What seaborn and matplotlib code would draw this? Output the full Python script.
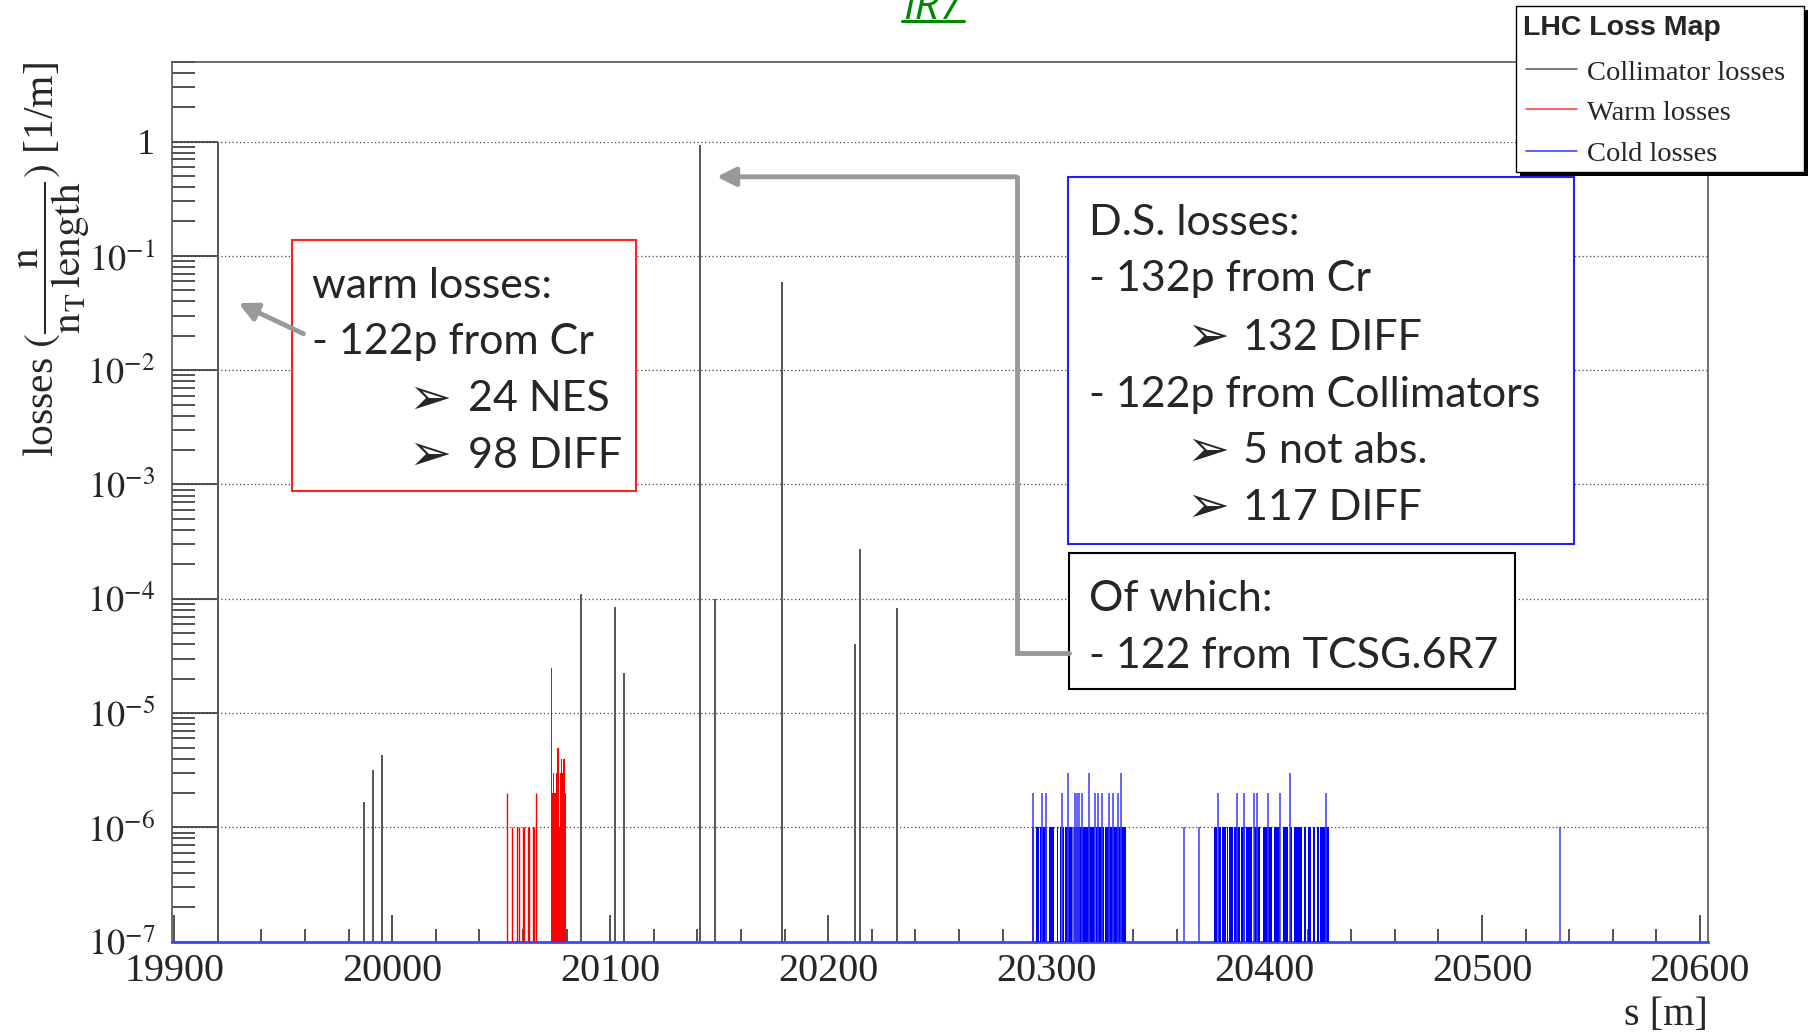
import numpy as np
import pandas as pd
import matplotlib
matplotlib.use("Agg")
import matplotlib.pyplot as plt
import seaborn as sns
from matplotlib.patches import Rectangle, FancyArrowPatch
from matplotlib.lines import Line2D
from matplotlib.ticker import FixedLocator, FuncFormatter, LogLocator, NullFormatter

# ---------------- data ----------------
# collimator losses (s [m], loss [1/m])
coll_s = [19920.0, 19987.0, 19991.1, 19995.1, 20086.4, 20102.3, 20106.3,
          20141.2, 20148.2, 20179.0, 20212.3, 20214.5, 20231.4]
coll_v = [1.0, 1.66e-6, 3.2e-6, 4.3e-6, 1.1e-4, 8.5e-5, 2.26e-5,
          0.94, 1.0e-4, 0.059, 4.0e-5, 2.7e-4, 8.3e-5]

# warm losses: isolated bins
warm_s = [20052.77, 20055.06, 20057.35, 20057.99, 20059.83, 20060.44,
          20062.27, 20062.72, 20064.42, 20065.03, 20065.93]
warm_v = [2e-6, 1e-6, 1e-6, 1e-6, 1e-6, 1e-6, 1e-6, 1e-6, 1e-6, 1e-6, 2e-6]
# warm losses: dense block (bin low edge, bin high edge, value)
warm_lo = [20072.95, 20073.27, 20073.88, 20074.19, 20075.11, 20075.72,
           20076.49, 20076.95, 20077.41, 20077.72, 20078.18, 20079.10]
warm_hi = [20073.27, 20073.88, 20074.19, 20075.11, 20075.72, 20076.49,
           20076.95, 20077.41, 20077.72, 20078.18, 20079.10, 20079.83]
warm_bv = [2.5e-5, 2e-6, 3e-6, 2e-6, 3e-6, 5e-6,
           1e-6, 3e-6, 4e-6, 3e-6, 4e-6, 2e-6]

# cold losses: dense blocks at the 1e-6 level
cold_lo = [20293.66, 20295.19, 20297.33, 20301.31, 20304.98, 20306.20,
           20307.42, 20308.65, 20312.93, 20323.02, 20327.00,
           20377.16, 20379.00, 20380.83, 20382.97, 20383.89, 20386.34,
           20389.40, 20391.54, 20395.21, 20399.49, 20404.69, 20408.67,
           20411.73, 20413.56, 20418.46, 20419.99, 20422.43, 20424.27,
           20425.80]
cold_hi = [20294.58, 20296.72, 20300.39, 20303.75, 20305.59, 20306.81,
           20308.03, 20311.71, 20322.41, 20326.39, 20336.63,
           20378.39, 20380.22, 20382.36, 20383.59, 20385.73, 20388.79,
           20391.23, 20394.29, 20397.96, 20403.47, 20407.44, 20410.81,
           20412.64, 20417.54, 20419.37, 20421.52, 20423.35, 20425.18,
           20429.93]
cold_bv = [1e-6, 1e-6, 1e-6, 1e-6, 1e-6, 1e-6, 1e-6, 1e-6, 1e-6, 1e-6, 1e-6,
           1e-6, 1e-6, 1e-6, 1e-6, 1e-6, 1e-6, 1e-6, 1e-6, 1e-6, 1e-6,
           1e-6, 1e-6, 1e-6, 1e-6, 1e-6, 1e-6, 1e-6, 1e-6, 1e-6]
# cold losses: single bins
cold_s = [20293.97, 20297.95, 20299.78, 20307.43, 20310.18, 20312.20, 20313.24,
          20314.16, 20315.08, 20316.30, 20319.82, 20322.42, 20323.64,
          20325.78, 20328.84, 20330.68, 20333.12, 20334.35,
          20363.2, 20370.0,
          20378.69, 20387.56, 20390.77, 20395.21, 20396.74, 20401.79,
          20407.29, 20411.88, 20428.24, 20535.8]
cold_v = [2e-6, 2e-6, 2e-6, 2e-6, 3e-6, 1e-6, 2e-6,
          2e-6, 2e-6, 2e-6, 3e-6, 2e-6, 2e-6,
          2e-6, 2e-6, 2e-6, 2e-6, 3e-6,
          1e-6, 1e-6,
          2e-6, 2e-6, 2e-6, 2e-6, 2e-6, 2e-6,
          2e-6, 3e-6, 2e-6, 1e-6]

x_ticks = [19900, 20000, 20100, 20200, 20300, 20400, 20500, 20600]
y_ticks = [1e-7, 1e-6, 1e-5, 1e-4, 1e-3, 1e-2, 1e-1, 1]

legend_title = "LHC Loss Map"
legend_labels = ["Collimator losses", "Warm losses", "Cold losses"]

# ---------------- style ----------------
sns.set_theme(style="white")
plt.rcParams["font.family"] = ["Liberation Serif", "DejaVu Serif"]
plt.rcParams["mathtext.fontset"] = "stix"

W, H = 1812, 1032
fig = plt.figure(figsize=(W / 100, H / 100), dpi=100)
fig.patch.set_facecolor("white")


def fx(x):
    return x / W


def fy(y):
    return 1 - y / H


ax = fig.add_axes([fx(171.7), fy(941.7), fx(1708) - fx(171.7), fy(61.7) - fy(941.7)])
ax.set_facecolor("white")
ax.set_yscale("log")
ax.set_xlim(19898.8, 20603.7)
ax.set_ylim(1e-7, 5.0)

BASE = 1e-7
GRAY = "#555555"
RED = "#ff0000"
BLUE = "#0000ff"

# grid
for yv in y_ticks:
    ax.axhline(yv, color="#444444", lw=0.9, ls=(0, (1, 2)), zorder=0)

# collimator lines
coll = pd.DataFrame({"s": coll_s, "v": coll_v})
ax.vlines(coll["s"], BASE, coll["v"], colors=GRAY, lw=1.4, zorder=3)

# warm
ax.vlines(warm_s, BASE, warm_v, colors=RED, lw=1.0, zorder=3)
ax.bar(warm_lo, np.array(warm_bv) - BASE, width=np.array(warm_hi) - np.array(warm_lo),
       bottom=BASE, align="edge", color=RED, linewidth=0, zorder=3)

# cold
ax.bar(cold_lo, np.array(cold_bv) - BASE, width=np.array(cold_hi) - np.array(cold_lo),
       bottom=BASE, align="edge", color=BLUE, linewidth=0, zorder=3)
ax.vlines(cold_s, BASE, cold_v, colors="#3a3aff", lw=1.1, zorder=3)

# spines
for side in ["left", "top", "right"]:
    ax.spines[side].set_color("#555555")
    ax.spines[side].set_linewidth(1.2)
ax.spines["bottom"].set_color("#4444ff")
ax.spines["bottom"].set_linewidth(2.0)

# ticks
ax.xaxis.set_major_locator(FixedLocator(x_ticks))
ax.xaxis.set_minor_locator(FixedLocator(np.arange(19900, 20601, 20)))
ax.set_xticklabels([str(t) for t in x_ticks], fontsize=29)
ax.tick_params(axis="x", which="major", direction="in", length=19.5, width=1.2,
               color="#333333", pad=8, top=False, bottom=True)
ax.tick_params(axis="x", which="minor", direction="in", length=9.5, width=1.2,
               color="#333333", top=False, bottom=True)

ax.yaxis.set_major_locator(FixedLocator(y_ticks))
ax.yaxis.set_minor_locator(LogLocator(base=10, subs=np.arange(2, 10), numticks=30))
ax.yaxis.set_minor_formatter(NullFormatter())


def yfmt(v, pos):
    if v >= 0.99:
        return "1"
    return r"$10^{%d}$" % int(round(np.log10(v)))


ax.yaxis.set_major_formatter(FuncFormatter(yfmt))
ax.tick_params(axis="y", which="major", direction="in", length=33, width=1.2,
               color="#333333", pad=12, labelsize=26, left=True, right=False)
ax.tick_params(axis="y", which="minor", direction="in", length=16.5, width=1.2,
               color="#333333", left=True, right=False)

# axis labels
ax.set_ylabel(r"losses $(\dfrac{\mathrm{n}}{\mathrm{n_{T}\,length}})$ [1/m]",
              fontsize=30, loc="top")
ax.yaxis.label.set_va("center")
ax.yaxis.set_label_coords(-0.076, 1.0)
fig.text(fx(1708), fy(1016), "s [m]", ha="right", va="center", fontsize=29)

# title
fig.text(fx(933), fy(19), "IR7", ha="center", va="baseline", fontsize=31,
         color="#008800", style="italic", family=["Open Sans", "DejaVu Sans"])
fig.add_artist(Line2D([fx(902), fx(964)], [fy(21.3), fy(21.3)], color="#008800", lw=2.2))

# legend box
fig.add_artist(Rectangle((fx(1519.7), fy(175.7)), fx(1804) - fx(1515.7), fy(6) - fy(171.7),
                         transform=fig.transFigure, facecolor="black", edgecolor="black", lw=0))
fig.add_artist(Rectangle((fx(1515.7), fy(171.7)), fx(1804) - fx(1515.7), fy(6) - fy(171.7),
                         transform=fig.transFigure, facecolor="white", edgecolor="black", lw=1.0))
fig.text(fx(1523), fy(35), legend_title, ha="left", va="baseline", fontsize=20.5,
         weight="bold", family=["Liberation Sans", "DejaVu Sans"])
leg_colors = [GRAY, "#ff3333", "#3333ff"]
for lab, col, yy in zip(legend_labels, leg_colors, [69, 109.3, 150.7]):
    fig.add_artist(Line2D([fx(1526), fx(1576.7)], [fy(yy), fy(yy)], color=col, lw=1.1))
    fig.text(fx(1587.3), fy(yy + 4), lab, ha="left", va="center", fontsize=20.5)

# annotation boxes
SANS = ["Lato", "DejaVu Sans"]
ARW = ["DejaVu Sans"]
TS = 31


def box(x0, y0, x1, y1, col):
    fig.add_artist(Rectangle((fx(x0), fy(y1)), fx(x1) - fx(x0), fy(y0) - fy(y1),
                             transform=fig.transFigure, facecolor="white",
                             edgecolor=col, lw=1.5, zorder=5))


def txt(x, y, s, fam=SANS, size=TS):
    fig.text(fx(x), fy(y), s, ha="left", va="baseline", fontsize=size,
             family=fam, zorder=6)


def arrow_mark(x, y):
    txt(x, y + 2, "\u27a2", ARW, 37)


box(292.4, 240.4, 635.6, 491.1, "#ff2020")
txt(312, 298, "warm losses:")
txt(312, 353.6, "- 122p from Cr")
arrow_mark(408, 411.4)
txt(468, 411.4, "24 NES")
arrow_mark(408, 468)
txt(468, 468, "98 DIFF")

box(1067.8, 176.8, 1574, 544.3, "#2020ff")
txt(1088.6, 234.6, "D.S. losses:")
txt(1088.6, 291.2, "- 132p from Cr")
arrow_mark(1186, 350.1)
txt(1243.4, 350.1, "132 DIFF")
txt(1088.6, 406.8, "- 122p from Collimators")
arrow_mark(1186, 463.4)
txt(1243.4, 463.4, "5 not abs.")
arrow_mark(1186, 520)
txt(1243.4, 520, "117 DIFF")

box(1069, 553.5, 1515, 688.7, "black")
txt(1088.6, 611.3, "Of which:")
txt(1088.6, 668, "- 122 from TCSG.6R7")

# gray arrows
AC = "#999999"
fig.add_artist(FancyArrowPatch((fx(306), fy(335)), (fx(236), fy(302)),
                               transform=fig.transFigure, arrowstyle="-|>",
                               mutation_scale=28, color=AC, lw=3.5, zorder=7))
fig.add_artist(Line2D([fx(1069), fx(1017), fx(1017)], [fy(653), fy(653), fy(176.8)],
                      color=AC, lw=3.5, zorder=7, solid_joinstyle="miter"))
fig.add_artist(FancyArrowPatch((fx(1018.7), fy(176.8)), (fx(714), fy(176.8)),
                               transform=fig.transFigure, arrowstyle="-|>",
                               mutation_scale=28, color=AC, lw=3.5, zorder=7))

fig.savefig("out.png", dpi=100, facecolor="white")
